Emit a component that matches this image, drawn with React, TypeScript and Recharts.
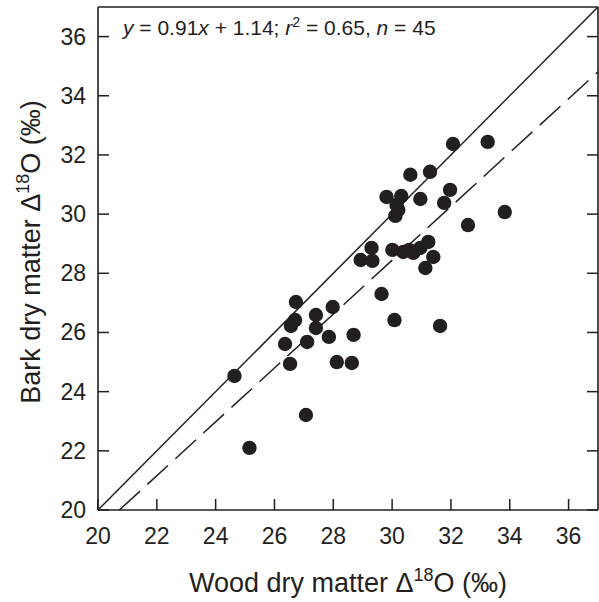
import React from "react";
import {
  ScatterChart,
  Scatter,
  XAxis,
  YAxis,
  ReferenceLine,
  Customized,
} from "recharts";

// Wood dry matter Δ18O (‰)
const woodX: number[] = [
  32.07, 33.25, 30.62, 31.29, 29.81, 30.31, 30.15, 30.11, 30.96, 31.97, 31.77,
  32.58, 33.83, 28.93, 29.3, 29.33, 30.01, 30.38, 30.72, 30.96, 31.23, 31.4,
  31.13, 29.64, 30.08, 31.63, 26.73, 26.56, 26.7, 27.41, 27.41, 27.98, 26.36,
  27.11, 27.85, 28.69, 26.53, 28.12, 28.63, 24.64, 27.07, 25.15, 30.58, 30.21,
];
// Bark dry matter Δ18O (‰)
const barkY: number[] = [
  32.37, 32.44, 31.33, 31.43, 30.58, 30.61, 30.31, 29.94, 30.51, 30.82, 30.38,
  29.63, 30.07, 28.45, 28.86, 28.42, 28.79, 28.72, 28.69, 28.86, 29.06, 28.55,
  28.18, 27.3, 26.42, 26.22, 27.03, 26.22, 26.42, 26.59, 26.15, 26.86, 25.61,
  25.68, 25.85, 25.92, 24.94, 25.0, 24.97, 24.53, 23.21, 22.1, 28.79, 30.14,
];

const axisTicks: number[] = [20, 22, 24, 26, 28, 30, 32, 34, 36];
const axisDomain: [number, number] = [20, 37];

// regression: y = 0.91x + 1.14
const slope = 0.91;
const intercept = 1.14;

const data = woodX.map((x, i) => ({ x, y: barkY[i] }));

const INK = "#231f20";
const FONT = "Liberation Sans, Arial, Helvetica, sans-serif";
const TICK_LEN = 11;

const BottomTick = (props: any) => {
  const { x, y, payload } = props;
  return (
    <g>
      <line x1={x} y1={y} x2={x} y2={y - TICK_LEN} stroke={INK} strokeWidth={1.5} />
      <text x={x} y={y + 34} textAnchor="middle" fontSize={23} fill={INK} fontFamily={FONT}>
        {payload.value}
      </text>
    </g>
  );
};

const LeftTick = (props: any) => {
  const { x, y, payload } = props;
  return (
    <g>
      <line x1={x} y1={y} x2={x + TICK_LEN} y2={y} stroke={INK} strokeWidth={1.5} />
      <text x={x - 12} y={y + 8} textAnchor="end" fontSize={23} fill={INK} fontFamily={FONT}>
        {payload.value}
      </text>
    </g>
  );
};

const TopTick = (props: any) => {
  const { x, y } = props;
  return <line x1={x} y1={y} x2={x} y2={y + TICK_LEN} stroke={INK} strokeWidth={1.5} />;
};

const RightTick = (props: any) => {
  const { x, y } = props;
  return <line x1={x} y1={y} x2={x - TICK_LEN} y2={y} stroke={INK} strokeWidth={1.5} />;
};

const Dot = (props: any) => {
  const { cx, cy } = props;
  return <circle cx={cx} cy={cy} r={7.2} fill={INK} />;
};

const Texts = () => (
  <g fontFamily={FONT} fill={INK}>
    <text x={123} y={35} fontSize={21}>
      <tspan fontStyle="italic">y</tspan>
      <tspan> = 0.91</tspan>
      <tspan fontStyle="italic">x</tspan>
      <tspan> + 1.14; </tspan>
      <tspan fontStyle="italic">r</tspan>
      <tspan fontSize={14} dy={-8}>2</tspan>
      <tspan dy={8}> = 0.65, </tspan>
      <tspan fontStyle="italic">n</tspan>
      <tspan> = 45</tspan>
    </text>
    <text x={348} y={592} fontSize={27} textAnchor="middle">
      <tspan>Wood dry matter Δ</tspan>
      <tspan fontSize={18} dy={-11}>18</tspan>
      <tspan dy={11}>O (‰)</tspan>
    </text>
    <text x={40} y={252} fontSize={27} textAnchor="middle" transform="rotate(-90 40 252)">
      <tspan>Bark dry matter Δ</tspan>
      <tspan fontSize={18} dy={-11}>18</tspan>
      <tspan dy={11}>O (‰)</tspan>
    </text>
  </g>
);

export default function App() {
  const x0 = (axisDomain[0] - intercept) / slope;
  return (
    <div style={{ position: "absolute", left: 0, top: 0, background: "#fff" }}>
      <ScatterChart
        width={599}
        height={602}
        margin={{ top: 6, right: 0, bottom: 91, left: 97 }}
      >
        <XAxis
          dataKey="x"
          type="number"
          domain={axisDomain}
          ticks={axisTicks}
          height={1}
          tickSize={0}
          tickMargin={0}
          tickLine={false}
          tick={<BottomTick />}
          axisLine={{ stroke: INK, strokeWidth: 1.6 }}
          allowDataOverflow
          interval={0}
        />
        <XAxis
          xAxisId="top"
          orientation="top"
          type="number"
          domain={axisDomain}
          ticks={axisTicks}
          height={1}
          tickSize={0}
          tickMargin={0}
          tickLine={false}
          tick={<TopTick />}
          axisLine={{ stroke: INK, strokeWidth: 1.6 }}
          allowDataOverflow
          interval={0}
        />
        <YAxis
          dataKey="y"
          type="number"
          domain={axisDomain}
          ticks={axisTicks}
          width={1}
          tickSize={0}
          tickMargin={0}
          tickLine={false}
          tick={<LeftTick />}
          axisLine={{ stroke: INK, strokeWidth: 1.6 }}
          allowDataOverflow
          interval={0}
        />
        <YAxis
          yAxisId="right"
          orientation="right"
          type="number"
          domain={axisDomain}
          ticks={axisTicks}
          width={1}
          tickSize={0}
          tickMargin={0}
          tickLine={false}
          tick={<RightTick />}
          axisLine={{ stroke: INK, strokeWidth: 1.6 }}
          allowDataOverflow
          interval={0}
        />
        <ReferenceLine
          segment={[
            { x: axisDomain[0], y: axisDomain[0] },
            { x: axisDomain[1], y: axisDomain[1] },
          ]}
          stroke={INK}
          strokeWidth={1.5}
          ifOverflow="visible"
        />
        <ReferenceLine
          segment={[
            { x: x0, y: axisDomain[0] },
            { x: axisDomain[1], y: slope * axisDomain[1] + intercept },
          ]}
          stroke={INK}
          strokeWidth={1.5}
          strokeDasharray="28 10"
          ifOverflow="visible"
        />
        <Scatter data={data} shape={<Dot />} isAnimationActive={false} />
        <Customized component={<Texts />} />
      </ScatterChart>
    </div>
  );
}
